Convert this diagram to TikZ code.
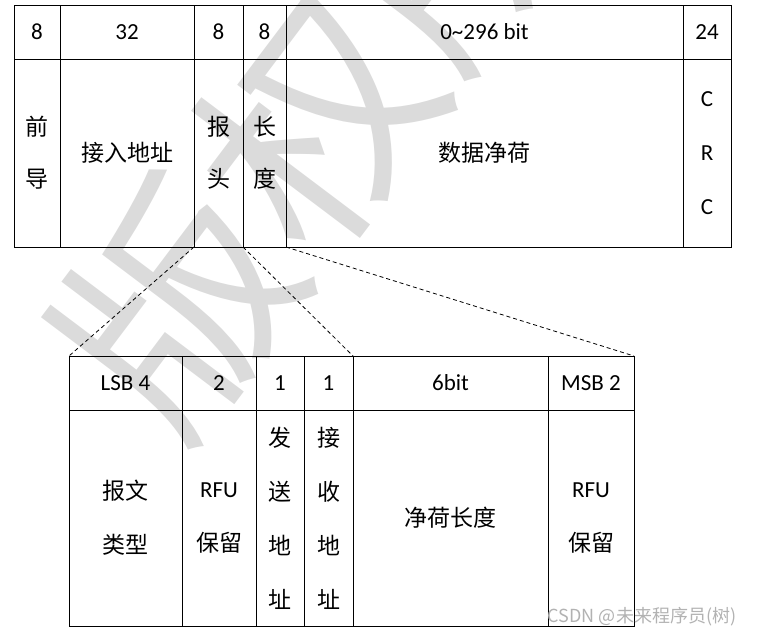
\documentclass[tikz,border=0pt]{standalone}
\usepackage{fontspec}
\setmainfont{Carlito}
\newfontfamily\cjk{Noto Sans CJK SC}
\begin{document}
\begin{tikzpicture}[x=1pt,y=-1pt,
  cell/.style={draw, line width=1pt, inner sep=0pt, outer sep=0pt, anchor=north west, align=center,
    font=\fontsize{23}{52}\selectfont},
  tall/.style={font=\fontsize{23}{54}\selectfont},
  zoomline/.style={draw, line width=0.8pt, dash pattern=on 4pt off 3pt},
  wm/.style={text=black!14, font=\cjk\fontsize{230}{230}\selectfont, inner sep=0pt},
  csdnmark/.style={text=black!30, font=\cjk\fontsize{18}{18}\selectfont, inner sep=0pt}]
\useasboundingbox (0,0) rectangle (758,637);
% watermark
\node[wm, rotate=53, anchor=west] (wmk) at (108,398) {版权所有};
% top table
\node[cell, minimum width=46pt,  minimum height=54pt] (t1) at (14,5) {8};
\node[cell, minimum width=134pt, minimum height=54pt] (t2) at (60,5) {32};
\node[cell, minimum width=49pt,  minimum height=54pt] (t3) at (194,5) {8};
\node[cell, minimum width=43pt,  minimum height=54pt] (t4) at (243,5) {8};
\node[cell, minimum width=397pt, minimum height=54pt] (t5) at (286,5) {0\char`~296 bit};
\node[cell, minimum width=48pt,  minimum height=54pt] (t6) at (683,5) {24};
\node[cell, minimum width=46pt,  minimum height=188pt] (b1) at (14,59) {\cjk 前\\\cjk 导};
\node[cell, minimum width=134pt, minimum height=188pt] (b2) at (60,59) {\cjk 接入地址};
\node[cell, minimum width=49pt,  minimum height=188pt] (b3) at (194,59) {\cjk 报\\\cjk 头};
\node[cell, minimum width=43pt,  minimum height=188pt] (b4) at (243,59) {\cjk 长\\\cjk 度};
\node[cell, minimum width=397pt, minimum height=188pt] (b5) at (286,59) {\cjk 数据净荷};
\node[cell, tall, minimum width=48pt,  minimum height=188pt] (b6) at (683,59) {C\\R\\C};
% bottom table
\node[cell, minimum width=113pt, minimum height=54pt] (u1) at (69,356) {LSB 4};
\node[cell, minimum width=74pt,  minimum height=54pt] (u2) at (182,356) {2};
\node[cell, minimum width=48pt,  minimum height=54pt] (u3) at (256,356) {1};
\node[cell, minimum width=49pt,  minimum height=54pt] (u4) at (304,356) {1};
\node[cell, minimum width=195pt, minimum height=54pt] (u5) at (353,356) {6bit};
\node[cell, minimum width=86pt,  minimum height=54pt] (u6) at (548,356) {MSB 2};
\node[cell, tall, minimum width=113pt, minimum height=216pt] (v1) at (69,410) {\cjk 报文\\\cjk 类型};
\node[cell, tall, minimum width=74pt,  minimum height=216pt] (v2) at (182,410) {RFU\\\cjk 保留};
\node[cell, tall, minimum width=48pt,  minimum height=216pt] (v3) at (256,410) {\cjk 发\\\cjk 送\\\cjk 地\\\cjk 址};
\node[cell, tall, minimum width=49pt,  minimum height=216pt] (v4) at (304,410) {\cjk 接\\\cjk 收\\\cjk 地\\\cjk 址};
\node[cell, minimum width=195pt, minimum height=216pt] (v5) at (353,410) {\cjk 净荷长度};
\node[cell, tall, minimum width=86pt,  minimum height=216pt] (v6) at (548,410) {RFU\\\cjk 保留};
% zoom connectors
\draw[zoomline] (b3.south west) -- (u1.north west);
\draw[zoomline] (b4.south west) -- (u5.north west);
\draw[zoomline] (b4.south east) -- (u6.north east);
% CSDN mark
\node[csdnmark, anchor=center] (csdn) at (642,617) {CSDN @未来程序员(树)};
\end{tikzpicture}
\end{document}
